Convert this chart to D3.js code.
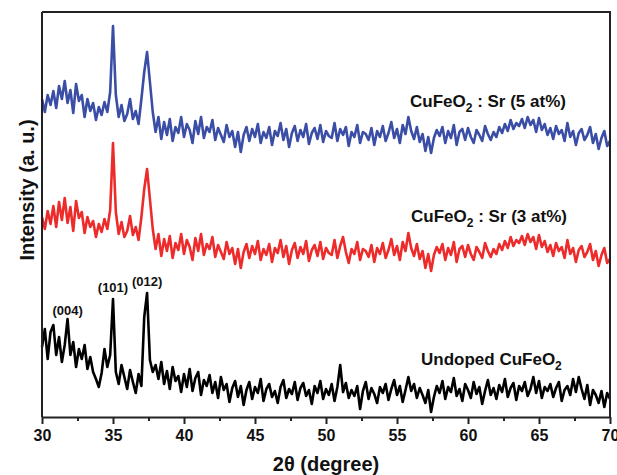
<!DOCTYPE html>
<html>
<head>
<meta charset="utf-8">
<script src="https://cdn.jsdelivr.net/npm/d3@7/dist/d3.min.js"></script>
<style>
  html, body { margin: 0; padding: 0; background: #fff; }
  svg { display: block; font-family: "Liberation Sans", Arial, sans-serif; font-weight: bold; }
</style>
</head>
<body>
<svg id="chart" width="617" height="475"></svg>
<script>
// 2θ sampling grid (degrees), 0.2° step from 30° to 70°
const twoTheta = d3.range(0, 201).map(i => +(30 + i * 0.2).toFixed(1));

// Intensity (a.u.) of CuFeO2 : Sr (5 at%)
const sr5 = [
  318, 305, 322, 312, 326, 309, 331, 318, 336, 314,
  327, 304, 333, 316, 322, 300, 318, 306, 314, 297,
  310, 302, 315, 305, 325, 391, 322, 300, 312, 296,
  303, 318, 298, 306, 293, 318, 345, 365, 335, 305,
  285, 300, 278, 295, 282, 298, 276, 290, 284, 300,
  280, 293, 287, 274, 296, 283, 300, 279, 290, 285,
  297, 277, 289, 282, 275, 292, 280, 286, 270, 285,
  265, 282, 290, 276, 288, 280, 293, 274, 285, 279,
  290, 272, 286, 281, 294, 277, 288, 270, 284, 291,
  276, 287, 280, 293, 273, 284, 289, 278, 292, 275,
  286, 281, 279, 294, 276, 288, 282, 290, 271, 285,
  280, 292, 274, 285, 283, 277, 289, 272, 286, 280,
  291, 276, 284, 295, 279, 288, 274, 292, 283, 300,
  286, 278, 290, 275, 283, 266, 280, 264, 279, 287,
  281, 290, 274, 286, 279, 292, 272, 285, 288, 277,
  289, 280, 274, 287, 282, 276, 291, 283, 277, 285,
  280, 290, 284, 293, 286, 297, 288, 294, 291, 298,
  289, 300, 292, 297, 285, 299, 287, 293, 282, 289,
  278, 291, 283, 287, 276, 294, 280, 286, 272, 284,
  288, 277, 282, 290, 274, 283, 268, 279, 286, 271,
  276
];

// Intensity (a.u.) of CuFeO2 : Sr (3 at%)
const sr3 = [
  200, 188, 206, 193, 211, 190, 215, 197, 219, 194,
  210, 186, 216, 199, 205, 184, 200, 190, 196, 180,
  193, 185, 198, 188, 207, 274, 205, 183, 195, 180,
  186, 201, 182, 190, 177, 200, 228, 248, 218, 188,
  168, 183, 161, 178, 166, 181, 159, 174, 167, 183,
  163, 177, 170, 157, 179, 166, 183, 162, 173, 168,
  180, 160, 172, 165, 158, 175, 163, 169, 153, 168,
  149, 165, 173, 159, 171, 163, 176, 157, 168, 162,
  173, 155, 169, 164, 177, 160, 171, 153, 167, 174,
  159, 170, 163, 176, 156, 167, 172, 161, 175, 158,
  169, 164, 162, 177, 159, 171, 180, 165, 154, 168,
  163, 175, 157, 168, 166, 160, 172, 155, 169, 163,
  174, 159, 167, 178, 162, 171, 157, 175, 166, 184,
  169, 161, 173, 158, 166, 149, 163, 146, 162, 170,
  164, 173, 157, 169, 162, 175, 155, 168, 171, 160,
  172, 163, 157, 170, 165, 159, 174, 166, 160, 168,
  163, 173, 167, 176, 169, 180, 171, 177, 174, 181,
  172, 183, 175, 180, 168, 182, 170, 176, 165, 172,
  161, 174, 166, 170, 159, 177, 163, 169, 155, 167,
  171, 160, 165, 173, 157, 166, 151, 162, 169, 154,
  158
];

// Intensity (a.u.) of undoped CuFeO2
const undoped = [
   70,  88,  58,  85,  92,  62,  80,  55,  72,  98,
   62,  75,  50,  68,  58,  72,  48,  60,  45,  38,
   30,  44,  68,  50,  62, 118,  45,  33,  52,  40,
   28,  47,  35,  24,  43,  31, 100, 124,  57,  45,
   52,  38,  55,  33,  46,  28,  50,  36,  41,  25,
   43,  30,  48,  26,  39,  45,  22,  37,  31,  42,
   24,  35,  19,  40,  27,  33,  15,  29,  36,  20,
   31,  12,  27,  35,  18,  30,  24,  38,  16,  28,
   33,  20,  26,  14,  30,  37,  19,  28,  23,  35,
   17,  29,  34,  21,  27,  13,  31,  24,  36,  18,
   28,  22,  33,  16,  30,  52,  25,  34,  19,  27,
   21,  31,   8,  26,  35,  18,  29,  23,  14,  30,
   24,  33,  17,  28,  37,  22,  31,  15,  27,  40,
   26,  33,  19,  29,  22,  14,  27,   5,  20,  31,
   24,  36,  18,  30,  25,  39,  21,  28,  16,  33,
   27,  19,  35,  23,  30,  13,  26,  37,  22,  29,
   18,  32,  25,  38,  20,  29,  34,  17,  31,  26,
   35,  21,  28,  40,  24,  36,  19,  30,  26,  33,
   20,  29,  35,  16,  27,  31,  22,  38,  25,  40,
   28,  18,  32,  12,  27,  22,  14,  26,  10,  24,
   18
];

const xTicks = [30, 35, 40, 45, 50, 55, 60, 65, 70];
const xMinorTicks = [32.5, 37.5, 42.5, 47.5, 52.5, 57.5, 62.5, 67.5];

// Reflections indexed on the undoped pattern
const reflectionLabels = ["(004)", "(101)", "(012)"];
const reflectionAngles = [31.8, 35.0, 37.4];
const reflectionIntensities = [98, 118, 124];

const seriesColors = ["#3b4ea6", "#ee2b2b", "#000000"];

const svg = d3.select("#chart");
const margin = { left: 42, right: 7, top: 12, bottom: 58 };
const W = 617, H = 475;
const plotL = margin.left, plotR = W - margin.right;
const plotT = margin.top, plotB = H - margin.bottom;

const x = d3.scaleLinear().domain([30, 70]).range([plotL, plotR]);
const y = d3.scaleLinear().domain([0, 405]).range([plotB, plotT]);

const line = d3.line()
  .x((d, i) => x(twoTheta[i]))
  .y(d => y(d));

// Diffraction patterns
const allSeries = [sr5, sr3, undoped];
svg.append("g")
  .selectAll("path")
  .data(allSeries)
  .join("path")
  .attr("d", line)
  .attr("fill", "none")
  .attr("stroke", (d, i) => seriesColors[i])
  .attr("stroke-width", 2.6)
  .attr("stroke-linejoin", "round");

// Frame: top and right borders
svg.append("path")
  .attr("d", `M${plotL},${plotT}H${plotR}V${plotB}`)
  .attr("fill", "none")
  .attr("stroke", "#222")
  .attr("stroke-width", 2);

// Left axis (no ticks)
svg.append("line")
  .attr("x1", plotL).attr("x2", plotL)
  .attr("y1", plotT).attr("y2", plotB)
  .attr("stroke", "#222").attr("stroke-width", 2);

// Bottom axis
const xAxis = d3.axisBottom(x).tickValues(xTicks).tickSize(7).tickSizeOuter(0).tickPadding(6);
const gx = svg.append("g").attr("transform", `translate(0,${plotB})`).call(xAxis);
gx.select(".domain").attr("stroke", "#222").attr("stroke-width", 2);
gx.selectAll(".tick line").attr("stroke", "#222").attr("stroke-width", 2);
gx.selectAll(".tick text")
  .attr("font-family", "'Liberation Sans', Arial, sans-serif")
  .attr("font-weight", "bold")
  .attr("font-size", 16)
  .attr("fill", "#111");

const xMinor = d3.axisBottom(x).tickValues(xMinorTicks).tickSize(4).tickFormat("");
const gxm = svg.append("g").attr("transform", `translate(0,${plotB})`).call(xMinor);
gxm.select(".domain").remove();
gxm.selectAll(".tick line").attr("stroke", "#222").attr("stroke-width", 2);

// Axis titles
svg.append("text")
  .attr("x", (plotL + plotR) / 2)
  .attr("y", 471)
  .attr("text-anchor", "middle")
  .attr("font-size", 20)
  .attr("fill", "#111")
  .text("2\u03b8 (degree)");

svg.append("text")
  .attr("transform", `translate(34,190) rotate(-90)`)
  .attr("text-anchor", "middle")
  .attr("font-size", 20)
  .attr("fill", "#111")
  .text("Intensity (a. u.)");

// Series labels with subscripted formula
function formulaLabel(xPos, yPos, before, after) {
  const t = svg.append("text")
    .attr("x", xPos).attr("y", yPos)
    .attr("font-size", 17)
    .attr("fill", "#111");
  t.append("tspan").text(before + "CuFeO");
  t.append("tspan").attr("font-size", 12).attr("dy", 5).text("2");
  if (after) t.append("tspan").attr("dy", -5).text(after);
  return t;
}
formulaLabel(410, 107, "", " : Sr (5 at%)");
formulaLabel(411, 222, "", " : Sr (3 at%)");
formulaLabel(421, 365, "Undoped ", "");

// Reflection labels above the undoped peaks
const labelOffsets = [4, 7, 7];
svg.append("g")
  .selectAll("text")
  .data(reflectionLabels)
  .join("text")
  .attr("x", (d, i) => x(reflectionAngles[i]))
  .attr("y", (d, i) => y(reflectionIntensities[i]) - labelOffsets[i])
  .attr("text-anchor", "middle")
  .attr("font-size", 13)
  .attr("fill", "#111")
  .text(d => d);
</script>
</body>
</html>
